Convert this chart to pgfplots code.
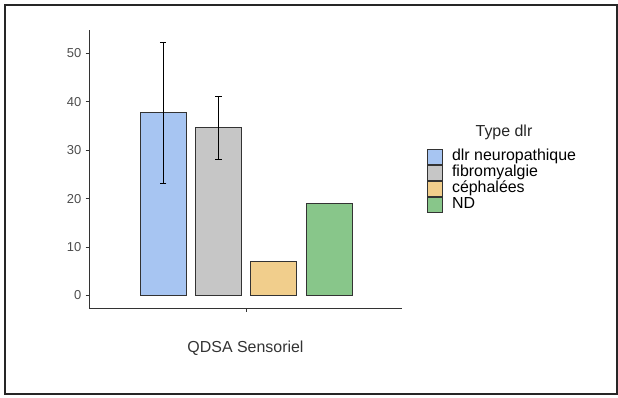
\documentclass[border=0pt]{standalone}
\usepackage{pgfplots}
\pgfplotsset{compat=1.18}
\usepackage{fontspec}
\setmainfont{Liberation Sans}
\definecolor{cblue}{HTML}{A7C5F2}
\definecolor{cgray}{HTML}{C6C6C6}
\definecolor{corange}{HTML}{F1CE8C}
\definecolor{cgreen}{HTML}{88C68A}
\definecolor{axcol}{HTML}{333333}
\definecolor{tickcol}{HTML}{4D4D4D}
\begin{document}
\begin{tikzpicture}[x=1bp,y=1bp]
\path[use as bounding box] (0,0) rectangle (618,397);
\draw[line width=1.5bp, color=black!85] (5,392) -- (5,3) -- (617,3) -- (617,392) -- cycle;
\begin{axis}[
  at={(89bp,89bp)}, anchor=south west,
  scale only axis, width=313bp, height=278bp,
  xmin=-2.84, xmax=2.82, ymin=-2.6, ymax=54.8,
  axis lines*=left,
  axis line style={color=axcol, line width=0.8bp, -},
  ytick={0,10,20,30,40,50},
  xtick={0}, xticklabels={},
  tick align=outside, major tick length=3.5bp,
  tick style={color=axcol, line width=0.8bp},
  ticklabel style={font=\fontsize{13}{15}\selectfont, color=tickcol},
  /pgf/number format/assume math mode=true,
  yticklabel style={inner sep=1bp, xshift=-3bp},
  xlabel={QDSA Sensoriel},
  x label style={at={(axis description cs:0.5,-0.144)}, anchor=center, font=\fontsize{16}{19}\selectfont, color=black!80},
  bar shift=0pt, bar width=46bp,
  error bars/y dir=both, error bars/y explicit,
  error bars/error bar style={line width=0.9bp, color=black},
  error bars/error mark options={rotate=90, mark size=3.3bp, line width=0.9bp, color=black},
  legend cell align=left,
  legend image code/.code={\draw[#1, line width=0.8bp] (0bp,-7.3bp) rectangle (15.5bp,7.3bp);},
  legend style={draw=none, fill=none, at={(axis description cs:1.079,0.571)}, anchor=north west,
    inner sep=0pt, outer sep=0pt, row sep=0.6bp,
    font=\fontsize{16}{19}\selectfont,
    nodes={inner sep=0pt, text height=11.5bp, text depth=3.5bp}},
]
\addplot[ybar, fill=cblue, draw=axcol, line width=0.8bp] coordinates {(-1.5,37.7) +- (0,14.5)};
\addlegendentry{\hspace{9bp}dlr neuropathique}
\addplot[ybar, fill=cgray, draw=axcol, line width=0.8bp] coordinates {(-0.5,34.6) +- (0,6.5)};
\addlegendentry{\hspace{9bp}fibromyalgie}
\addplot[ybar, fill=corange, draw=axcol, line width=0.8bp] coordinates {(0.5,7.0)};
\addlegendentry{\hspace{9bp}céphalées}
\addplot[ybar, fill=cgreen, draw=axcol, line width=0.8bp] coordinates {(1.5,19.0)};
\addlegendentry{\hspace{9bp}ND}
\end{axis}
\node[font=\fontsize{16}{19}\selectfont, color=black!85] at (504,265) {Type dlr};
\end{tikzpicture}
\end{document}
